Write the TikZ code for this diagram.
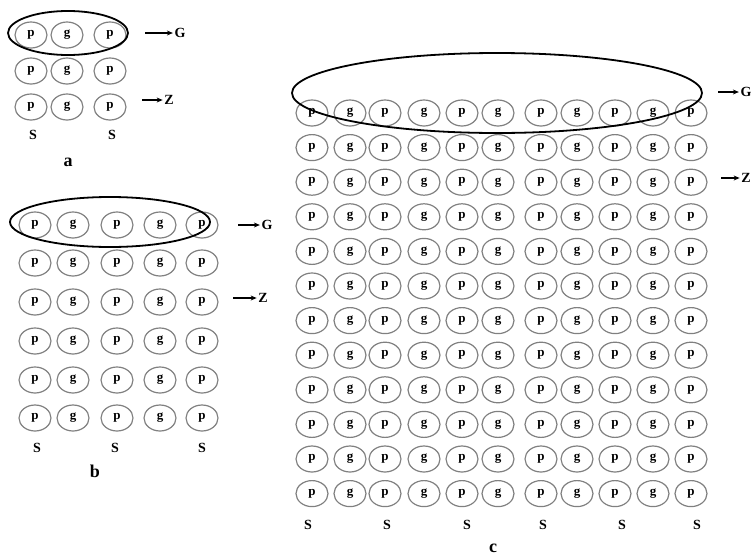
\documentclass[tikz,border=0pt]{standalone}
\usepackage{fontspec}
\setmainfont{Liberation Serif}
\usetikzlibrary{arrows.meta,shapes.geometric}

\begin{document}
\begin{tikzpicture}[x=1pt, y=-1pt, >={Stealth[length=6pt,width=5pt]},
    cell/.style={draw=black!50, line width=1.2pt, ellipse, minimum width=32pt, minimum height=26pt, inner sep=0pt, font=\fontsize{13}{15}\selectfont\bfseries},
    hoop/.style={draw=black, line width=1.8pt},
    tag/.style={inner sep=1.5pt, font=\fontsize{14}{16}\selectfont\bfseries},
    caption/.style={font=\fontsize{18}{20}\selectfont\bfseries},
    pin/.style={->, line width=1.1pt}]
    \useasboundingbox (0,0) rectangle (756,560);
    % panel a
    \foreach \y [count=\r] in {35,71,107}
        \foreach \x [count=\c] in {31,67,110}
            \node[cell] (a-\r-\c) at (\x,\y) {\ifodd\c p\else g\fi};
    \draw[hoop] (68,33) ellipse [x radius=60, y radius=22];
    \node[tag] (aG) at (180,33) {G};
    \node[tag] (aZ) at (169,100) {Z};
    \coordinate (aGtail) at (145,33);
    \coordinate (aZtail) at (142,100);
    \draw[pin] (aGtail) -- (aG);
    \draw[pin] (aZtail) -- (aZ);
    \node[tag] (aS1) at (33,135) {S};
    \node[tag] (aS2) at (112,135) {S};
    \node[caption] (alabel) at (68,162) {a};
    % panel b
    \foreach \y [count=\r] in {225,263,302,341,380,418}
        \foreach \x [count=\c] in {35,73,117,160,202}
            \node[cell] (b-\r-\c) at (\x,\y) {\ifodd\c p\else g\fi};
    \draw[hoop] (110,222) ellipse [x radius=100, y radius=25];
    \node[tag] (bG) at (267,225) {G};
    \node[tag] (bZ) at (263,298) {Z};
    \coordinate (bGtail) at (238,225);
    \coordinate (bZtail) at (233,298);
    \draw[pin] (bGtail) -- (bG);
    \draw[pin] (bZtail) -- (bZ);
    \node[tag] (bS1) at (37,448) {S};
    \node[tag] (bS2) at (115,448) {S};
    \node[tag] (bS3) at (202,448) {S};
    \node[caption] (blabel) at (95,471) {b};
    % panel c
    \foreach \r in {1,...,12}
        \foreach \x [count=\c] in {312,350,385,424,462,498,541,577,615,653,691}
            \node[cell] (c-\r-\c) at (\x,{113+34.6*(\r-1)}) {\ifodd\c p\else g\fi};
    \draw[hoop] (497,93) ellipse [x radius=205, y radius=40];
    \node[tag] (cG) at (746,92) {G};
    \node[tag] (cZ) at (746,178) {Z};
    \coordinate (cGtail) at (718,92);
    \coordinate (cZtail) at (721,178);
    \draw[pin] (cGtail) -- (cG);
    \draw[pin] (cZtail) -- (cZ);
    \foreach \x [count=\i] in {308,387,467,543,622,697}
        \node[tag] (cS\i) at (\x,525) {S};
    \node[caption] (clabel) at (493,548) {c};
\end{tikzpicture}
\end{document}
